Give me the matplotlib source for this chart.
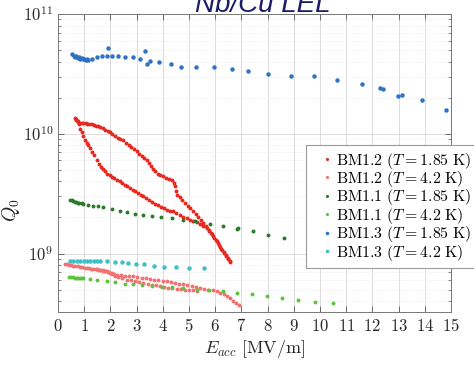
import math
import matplotlib
matplotlib.use("Agg")
import matplotlib.pyplot as plt
from matplotlib.ticker import FixedLocator, FuncFormatter, LogLocator, NullFormatter

plt.rcParams['mathtext.fontset'] = 'cm'

# BM1.2, T = 1.85 K (loop: two branches)
bm12_185_x_a = [0.65, 0.7, 0.75, 0.82, 0.9, 0.97, 1.05, 1.12, 1.2, 1.28, 1.36, 1.44, 1.52, 1.6, 1.7, 1.8, 1.9, 1.98,
                2.08, 2.18, 2.28, 2.38, 2.49, 2.6, 2.7, 2.8, 2.9, 3.0, 3.1, 3.2, 3.3, 3.38, 3.46, 3.54, 3.62, 3.70,
                3.80, 3.9, 4.02, 4.12, 4.22, 4.34, 4.42, 4.47, 4.50, 4.55, 4.65, 4.75, 4.85, 4.95, 5.05, 5.15, 5.25,
                5.35, 5.45, 5.55, 5.65, 5.75, 5.85, 5.93, 6.02, 6.1, 6.18, 6.25, 6.33, 6.41, 6.49, 6.56]
bm12_185_y_a = [1.35e10, 1.3e10, 1.26e10, 1.24e10, 1.23e10, 1.22e10, 1.22e10, 1.21e10, 1.21e10, 1.2e10, 1.18e10,
                1.17e10, 1.15e10, 1.14e10, 1.11e10, 1.08e10, 1.05e10, 1.03e10, 1.0e10, 9.6e9, 9.3e9, 9.1e9, 8.9e9,
                8.4e9, 8.0e9, 7.7e9, 7.4e9, 7.13e9, 6.8e9, 6.5e9, 6.25e9, 6.07e9, 5.7e9, 5.35e9, 5.1e9, 4.85e9,
                4.6e9, 4.5e9, 4.4e9, 4.3e9, 4.2e9, 4.14e9, 3.85e9, 3.64e9, 3.35e9, 3.1e9, 2.95e9, 2.8e9, 2.65e9,
                2.5e9, 2.38e9, 2.25e9, 2.14e9, 2.02e9, 1.92e9, 1.8e9, 1.7e9, 1.58e9, 1.47e9, 1.39e9, 1.3e9, 1.22e9,
                1.14e9, 1.08e9, 1.01e9, 0.96e9, 0.9e9, 0.853e9]
bm12_185_x_b = [0.7, 0.75, 0.8, 0.85, 0.9, 0.97, 1.03, 1.1, 1.16, 1.22, 1.3, 1.38, 1.48, 1.56, 1.64, 1.72, 1.79,
                1.88, 1.97, 2.06, 2.15, 2.24, 2.35, 2.45, 2.55, 2.65, 2.75, 2.85, 2.95, 3.05, 3.15, 3.26, 3.37, 3.48,
                3.6, 3.7, 3.8, 3.92, 4.04, 4.16, 4.28, 4.40, 4.52, 4.64, 4.78, 4.91, 5.04, 5.16, 5.29, 5.42, 5.55,
                5.67, 5.77, 5.87, 5.97, 6.06, 6.15, 6.24, 6.33, 6.42, 6.5, 6.58]
bm12_185_y_b = [1.33e10, 1.28e10, 1.2e10, 1.1e10, 1.03e10, 9.5e9, 8.9e9, 8.4e9, 8.0e9, 7.6e9, 7.1e9, 6.6e9, 6.07e9,
                5.6e9, 5.3e9, 5.05e9, 4.85e9, 4.65e9, 4.5e9, 4.35e9, 4.25e9, 4.14e9, 4.0e9, 3.85e9, 3.75e9, 3.63e9,
                3.53e9, 3.42e9, 3.3e9, 3.2e9, 3.1e9, 3.0e9, 2.9e9, 2.8e9, 2.7e9, 2.6e9, 2.55e9, 2.47e9, 2.4e9,
                2.33e9, 2.28e9, 2.25e9, 2.17e9, 2.1e9, 2.03e9, 1.98e9, 1.92e9, 1.87e9, 1.82e9, 1.78e9, 1.71e9,
                1.64e9, 1.55e9, 1.45e9, 1.35e9, 1.27e9, 1.18e9, 1.1e9, 1.03e9, 0.97e9, 0.91e9, 0.86e9]

# BM1.2, T = 4.2 K
bm12_42_x_a = [0.27, 0.35, 0.43, 0.5, 0.58, 0.66, 0.75, 0.84, 0.93, 1.02, 1.1, 1.18, 1.27, 1.35, 1.44, 1.52, 1.6,
               1.7, 1.78, 1.86, 1.95, 2.05, 2.14, 2.24, 2.4, 2.55, 2.71, 2.87, 3.03, 3.19, 3.35, 3.51, 3.67, 3.83,
               3.99, 4.15, 4.31, 4.47, 4.62, 4.78, 4.94, 5.1, 5.26, 5.42, 5.58, 5.74, 5.9, 6.06, 6.2, 6.32, 6.44,
               6.56, 6.68, 6.8, 6.92]
bm12_42_y_a = [8.2e8, 8.1e8, 8.0e8, 7.95e8, 7.9e8, 7.85e8, 7.8e8, 7.74e8, 7.68e8, 7.62e8, 7.56e8, 7.52e8, 7.48e8,
               7.45e8, 7.38e8, 7.3e8, 7.25e8, 7.2e8, 7.15e8, 7.12e8, 7.0e8, 6.88e8, 6.78e8, 6.68e8, 6.6e8, 6.55e8,
               6.5e8, 6.47e8, 6.38e8, 6.3e8, 6.22e8, 6.15e8, 6.07e8, 6.0e8, 5.94e8, 5.88e8, 5.8e8, 5.7e8, 5.6e8,
               5.52e8, 5.42e8, 5.34e8, 5.25e8, 5.18e8, 5.1e8, 5.0e8, 4.93e8, 4.85e8, 4.7e8, 4.55e8, 4.4e8, 4.27e8,
               4.05e8, 3.87e8, 3.69e8]
bm12_42_x_b = [1.5, 1.6, 1.7, 1.8, 1.9, 1.98, 2.08, 2.18, 2.3, 2.46, 2.62, 2.78, 2.94, 3.1, 3.26, 3.42, 3.58, 3.74,
               3.89, 4.05, 4.21, 4.37, 4.53, 4.69, 4.85, 5.0, 5.16, 5.32]
bm12_42_y_b = [7.4e8, 7.35e8, 7.28e8, 7.2e8, 7.05e8, 6.9e8, 6.72e8, 6.55e8, 6.38e8, 6.22e8, 6.07e8, 5.98e8, 5.88e8,
               5.78e8, 5.7e8, 5.6e8, 5.5e8, 5.42e8, 5.35e8, 5.28e8, 5.2e8, 5.14e8, 5.08e8, 5.03e8, 4.98e8, 4.95e8,
               4.92e8, 4.88e8]

# BM1.1, T = 1.85 K
bm11_185_x = [0.46, 0.52, 0.58, 0.64, 0.7, 0.76, 0.82, 0.9, 0.97, 1.16, 1.35, 1.54, 1.73, 2.05, 2.37, 2.62, 2.94,
              3.26, 3.58, 3.92, 4.34, 4.78, 5.23, 5.80, 6.31, 6.82, 6.87, 7.43, 8.03, 8.61]
bm11_185_y = [2.82e9, 2.78e9, 2.73e9, 2.7e9, 2.68e9, 2.66e9, 2.64e9, 2.62e9, 2.61e9, 2.56e9, 2.51e9, 2.48e9, 2.45e9,
              2.36e9, 2.28e9, 2.21e9, 2.15e9, 2.11e9, 2.07e9, 2.02e9, 1.98e9, 1.92e9, 1.86e9, 1.78e9, 1.71e9,
              1.61e9, 1.62e9, 1.53e9, 1.44e9, 1.35e9]

# BM1.1, T = 4.2 K
bm11_42_x = [0.43, 0.5, 0.57, 0.64, 0.71, 0.78, 0.85, 0.92, 0.97, 1.22, 1.48, 1.86, 2.18, 2.56, 2.87, 3.19, 3.58,
             3.96, 4.34, 4.78, 5.29, 5.78, 6.31, 6.82, 7.39, 7.97, 8.54, 9.15, 9.81, 10.51]
bm11_42_y = [6.4e8, 6.36e8, 6.33e8, 6.3e8, 6.27e8, 6.25e8, 6.23e8, 6.2e8, 6.19e8, 6.12e8, 6.07e8, 5.88e8, 5.77e8,
             5.62e8, 5.52e8, 5.41e8, 5.35e8, 5.27e8, 5.27e8, 5.11e8, 5.0e8, 4.94e8, 4.85e8, 4.7e8, 4.61e8, 4.4e8,
             4.22e8, 4.11e8, 3.95e8, 3.83e8]

# BM1.3, T = 1.85 K
bm13_185_x = [0.55, 0.6, 0.65, 0.7, 0.75, 0.8, 0.85, 0.9, 0.95, 1.0, 1.05, 1.1, 1.15, 1.3, 1.48, 1.67, 1.86, 1.92,
              2.07, 2.3, 2.56, 2.85, 3.13, 3.31, 3.41, 3.51, 3.87, 4.30, 4.71, 5.28, 5.95, 6.63, 7.26, 8.03, 8.88,
              9.77, 10.66, 11.59, 12.3, 12.4, 12.99, 13.12, 13.88, 14.81]
bm13_185_y = [4.6e10, 4.5e10, 4.4e10, 4.45e10, 4.3e10, 4.35e10, 4.25e10, 4.3e10, 4.2e10, 4.25e10, 4.15e10, 4.2e10,
              4.1e10, 4.25e10, 4.37e10, 4.5e10, 4.5e10, 5.24e10, 4.5e10, 4.45e10, 4.4e10, 4.36e10, 4.2e10, 4.95e10,
              3.83e10, 4.07e10, 3.96e10, 3.83e10, 3.6e10, 3.63e10, 3.6e10, 3.5e10, 3.33e10, 3.18e10, 3.06e10,
              3.03e10, 2.82e10, 2.61e10, 2.39e10, 2.38e10, 2.07e10, 2.11e10, 1.9e10, 1.58e10]

# BM1.3, T = 4.2 K
bm13_42_x = [0.46, 0.59, 0.72, 0.85, 0.98, 1.11, 1.24, 1.37, 1.5, 1.6, 1.86, 2.18, 2.43, 2.68, 2.98, 3.28, 3.66,
             4.06, 4.49, 5.0, 5.57]
bm13_42_y = [8.74e8, 8.72e8, 8.7e8, 8.68e8, 8.67e8, 8.66e8, 8.65e8, 8.64e8, 8.63e8, 8.63e8, 8.6e8, 8.58e8, 8.46e8,
             8.36e8, 8.2e8, 8.1e8, 7.94e8, 7.74e8, 7.7e8, 7.6e8, 7.6e8]

labels = [r'$\mathrm{BM1.2}\ (T = 1.85\ \mathrm{K})$',
          r'$\mathrm{BM1.2}\ (T = 4.2\ \mathrm{K})$',
          r'$\mathrm{BM1.1}\ (T = 1.85\ \mathrm{K})$',
          r'$\mathrm{BM1.1}\ (T = 4.2\ \mathrm{K})$',
          r'$\mathrm{BM1.3}\ (T = 1.85\ \mathrm{K})$',
          r'$\mathrm{BM1.3}\ (T = 4.2\ \mathrm{K})$']
colors = ['#e6281f', '#f07272', '#2a7a2a', '#5cc43c', '#2f72c4', '#3ec0c6']
x_ticks = list(range(0, 16))

fig = plt.figure(figsize=(4.74, 3.65), dpi=100)
ax = fig.add_axes([58 / 474, 1 - 312 / 365, (451 - 58) / 474, (312 - 14) / 365])
ax.set_yscale('log')

ms = 2.8
ax.plot(bm12_185_x_a + bm12_185_x_b, bm12_185_y_a + bm12_185_y_b, 'o', ms=ms, mew=0, color=colors[0],
        label=labels[0], zorder=3)
ax.plot(bm12_42_x_a + bm12_42_x_b, bm12_42_y_a + bm12_42_y_b, 'o', ms=ms, mew=0, color=colors[1],
        label=labels[1], zorder=3)
ax.plot(bm11_185_x, bm11_185_y, 'o', ms=ms, mew=0, color=colors[2], label=labels[2], zorder=3)
ax.plot(bm11_42_x, bm11_42_y, 'o', ms=ms, mew=0, color=colors[3], label=labels[3], zorder=3)
ax.plot(bm13_185_x, bm13_185_y, 'o', ms=3.2, mew=0, color=colors[4], label=labels[4], zorder=3)
ax.plot(bm13_42_x, bm13_42_y, 'o', ms=3.2, mew=0, color=colors[5], label=labels[5], zorder=3)

ax.set_xlim(0, 15)
ax.set_ylim(3.25e8, 1e11)
ax.xaxis.set_major_locator(FixedLocator(x_ticks))
ax.xaxis.set_major_formatter(FuncFormatter(lambda v, p: r'$%d$' % v))
ax.yaxis.set_major_locator(LogLocator(base=10, numticks=10))
ax.yaxis.set_major_formatter(FuncFormatter(lambda v, p: r'$10^{%d}$' % round(math.log10(v))))
ax.yaxis.set_minor_locator(LogLocator(base=10, subs=range(2, 10), numticks=20))
ax.yaxis.set_minor_formatter(NullFormatter())

ax.tick_params(which='both', direction='in', top=True, right=True, colors='#555555', labelcolor='#262626')
ax.tick_params(which='major', length=4, width=0.6, labelsize=12)
ax.tick_params(which='minor', length=2, width=0.5)
ax.grid(True, which='major', color='#dcdcdc', lw=0.7)
ax.grid(True, which='minor', axis='y', color='#e6e6e6', lw=0.6, ls=':')
ax.set_axisbelow(True)
for s in ax.spines.values():
    s.set_color('#777777')
    s.set_linewidth(0.7)

ax.set_xlabel(r'$E_{acc}\ [\mathrm{MV/m}]$', fontsize=13, color='#262626', labelpad=2)
ax.set_ylabel(r'$Q_0$', fontsize=14, color='#262626')
ax.yaxis.set_label_coords(-0.092, 0.34)

leg = fig.legend(loc='upper left', bbox_to_anchor=(306 / 474, 1 - 145 / 365), fontsize=11.4,
                 markerscale=0.8, handlelength=2.0, handletextpad=-0.45, borderpad=0.35, labelspacing=-0.1,
                 fancybox=False, framealpha=1, edgecolor='#999999', borderaxespad=0)
leg.get_frame().set_linewidth(0.8)

fig.text(0.555, 1 - 12 / 365, 'Nb/Cu LEL', ha='center', va='baseline', fontsize=20, style='italic',
         family='Liberation Sans', color='#1c1c66')

fig.savefig('out.png', dpi=100)
